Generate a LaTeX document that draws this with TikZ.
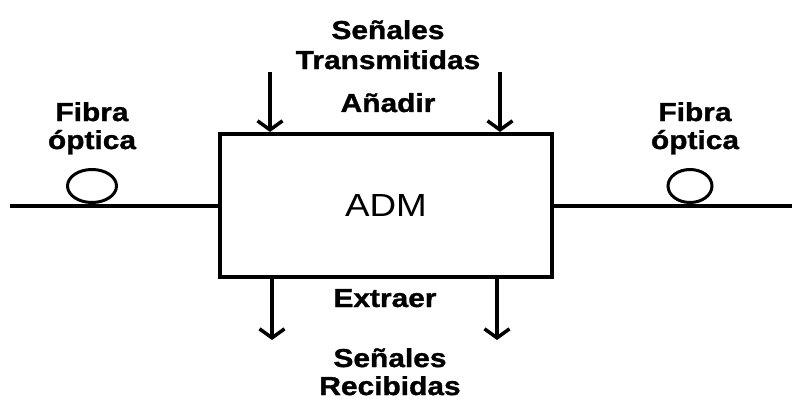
\documentclass[tikz,border=0pt]{standalone}
\usepackage{fontspec}
\newfontfamily\lblfont[FakeStretch=1.15, BoldFeatures={FakeBold=1.2}]{Liberation Sans}
\usetikzlibrary{positioning,shapes.geometric,arrows.meta}

\begin{document}
\begin{tikzpicture}[x=1pt,y=-1pt,every node/.style={font=\lblfont\bfseries\fontsize{26}{28}\selectfont}]
	% Frame of the picture (pixel units, y downwards)
	\useasboundingbox (0,0) rectangle (792,401);

	% Styles
	\tikzstyle{adm_box} = [draw=black, line width=4pt, minimum width=332pt, minimum height=143pt, inner sep=0pt, font=\lblfont\mdseries\fontsize{32}{34}\selectfont]
	\tikzstyle{fiber_line} = [draw=black, line width=4pt]
	\tikzstyle{coil} = [ellipse, draw=black, line width=3pt, inner sep=0pt]
	\tikzstyle{sig_arrow} = [draw=black, line width=3.5pt, -{Straight Barb[length=9pt,width=25pt]}]
	\tikzstyle{sig_label} = [align=center, inner sep=0pt]

	% Column X positions
	\def\addleft{270}
	\def\addright{500}
	\def\dropleft{272}
	\def\dropright{497}

	% Multiplexer box
	\node[adm_box] (adm) at (386, 205.5) {ADM};

	% Fibre on both sides
	\coordinate (fibL) at (10, 205.5);
	\coordinate (fibR) at (792, 205.5);
	\draw[fiber_line] (fibL) -- (adm.west);
	\draw[fiber_line] (adm.east) -- (fibR);
	\node[coil, minimum width=49pt, minimum height=33pt] (coilL) at (92, 186) {};
	\node[coil, minimum width=44pt, minimum height=33pt] (coilR) at (690, 186) {};
	\node[sig_label, anchor=north] (fibLtext) at (92, 102) {Fibra\\óptica};
	\node[sig_label, anchor=north] (fibRtext) at (695, 102) {Fibra\\óptica};

	% Add side (top)
	\coordinate (addL) at (\addleft, 72);
	\coordinate (addR) at (\addright, 72);
	\draw[sig_arrow] (addL) -- (addL |- adm.north);
	\draw[sig_arrow] (addR) -- (addR |- adm.north);
	\node[sig_label, anchor=north, font=\lblfont\bfseries\fontsize{26}{30}\selectfont] (txtext) at (388, 20) {Señales\\Transmitidas};
	\node[sig_label, anchor=base] (addtext) at (388, 112) {Añadir};

	% Drop side (bottom)
	\coordinate (dropL) at (\dropleft, 340);
	\coordinate (dropR) at (\dropright, 340);
	\draw[sig_arrow] (dropL |- adm.south) -- (dropL);
	\draw[sig_arrow] (dropR |- adm.south) -- (dropR);
	\node[sig_label, anchor=base] (droptext) at (385, 307) {Extraer};
	\node[sig_label, anchor=north] (rxtext) at (390, 348) {Señales\\Recibidas};

\end{tikzpicture}
\end{document}
